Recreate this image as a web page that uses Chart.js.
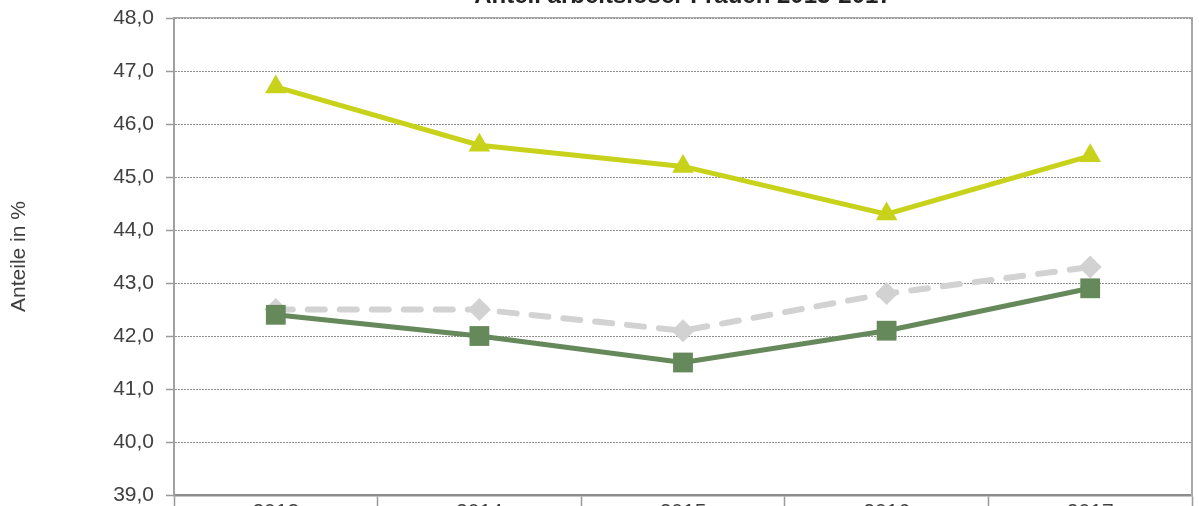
<!DOCTYPE html>
<html><head><meta charset="utf-8">
<script src="https://cdn.jsdelivr.net/npm/chart.js@4"></script>
<style>
html,body{margin:0;padding:0;background:#fff;overflow:hidden;width:1199px;height:506px}
#wrap{position:absolute;left:0;top:-30px;width:1206px;height:565px}
</style>
</head><body>
<div id="wrap"><canvas id="c" width="1206" height="565"></canvas></div>
<script>
const chartTitle = 'Anteil arbeitsloser Frauen 2013-2017';
const yAxisTitle = 'Anteile in %';
const years = ['2013', '2014', '2015', '2016', '2017'];
const seriesGreen = [42.4, 42.0, 41.5, 42.1, 42.9];
const seriesGray = [42.5, 42.5, 42.1, 42.8, 43.3];
const seriesYellow = [46.7, 45.6, 45.2, 44.3, 45.4];
const yMin = 39, yMax = 48, yStep = 1;

const FONT = "'Liberation Sans', Arial, sans-serif";
Chart.defaults.font.family = FONT;
Chart.defaults.color = '#404040';

new Chart(document.getElementById('c'), {
  type: 'line',
  data: {
    labels: years,
    datasets: [
      {
        label: 'Reihe 1', data: seriesGreen,
        borderColor: '#65895a', backgroundColor: '#65895a',
        borderWidth: 5, pointStyle: 'rect', pointRadius: 14, pointBorderWidth: 0,
        tension: 0
      },
      {
        label: 'Reihe 2', data: seriesGray,
        borderColor: '#d2d2d2', backgroundColor: '#d2d2d2',
        borderWidth: 6, borderDash: [17, 15], borderCapStyle: 'round',
        pointStyle: 'rectRot', pointRadius: 11.5, pointBorderWidth: 0,
        tension: 0
      },
      {
        label: 'Reihe 3', data: seriesYellow,
        borderColor: '#c8d21b', backgroundColor: '#c8d21b',
        borderWidth: 5, pointStyle: 'triangle', pointRadius: 12.5, pointBorderWidth: 0,
        tension: 0
      }
    ]
  },
  options: {
    responsive: false,
    animation: false,
    devicePixelRatio: 1,
    layout: { padding: { left: 0, right: 0, top: 0, bottom: 0 } },
    plugins: {
      legend: { display: false },
      tooltip: { enabled: false },
      title: {
        display: true, text: chartTitle, fullSize: false,
        color: '#222', font: { size: 24, weight: 'bold', family: FONT },
        padding: { top: 11.5, bottom: 7.7 }
      }
    },
    scales: {
      x: {
        type: 'category', position: 'bottom', offset: true,
        afterFit: s => { s.height = 40; },
        grid: { display: true, drawOnChartArea: false, drawTicks: true, offset: true,
                tickLength: 12, tickColor: '#9a9a9a', tickWidth: 1.5 },
        border: { display: true, color: '#8c8c8c', width: 2.5 },
        ticks: { padding: -7, color: '#404040', font: { size: 21 } }
      },
      x2: {
        type: 'category', position: 'top', labels: years, offset: true,
        afterFit: s => { s.height = 0; },
        grid: { display: false, drawTicks: false },
        border: { display: true, color: '#a8a8a8', width: 1.5 },
        ticks: { display: false }
      },
      y: {
        type: 'linear', position: 'left', min: yMin, max: yMax,
        afterFit: s => { s.width = 174; },
        ticks: {
          stepSize: yStep, padding: 12, color: '#404040', font: { size: 21 },
          callback: v => v.toFixed(1).replace('.', ',')
        },
        grid: { color: '#8f8f8f', lineWidth: 1, tickLength: 8, tickColor: '#9a9a9a', tickWidth: 1.5 },
        border: { display: true, color: '#a0a0a0', width: 2, dash: [2, 1] },
        title: {
          display: true, text: yAxisTitle, color: '#404040',
          font: { size: 21 }, padding: { top: 6.4, bottom: 0 }
        }
      },
      y2: {
        type: 'linear', position: 'right', min: yMin, max: yMax,
        afterFit: s => { s.width = 0; },
        grid: { display: false, drawTicks: false },
        border: { display: true, color: '#a8a8a8', width: 2 },
        ticks: { display: false }
      }
    }
  }
});
</script>
</body></html>
